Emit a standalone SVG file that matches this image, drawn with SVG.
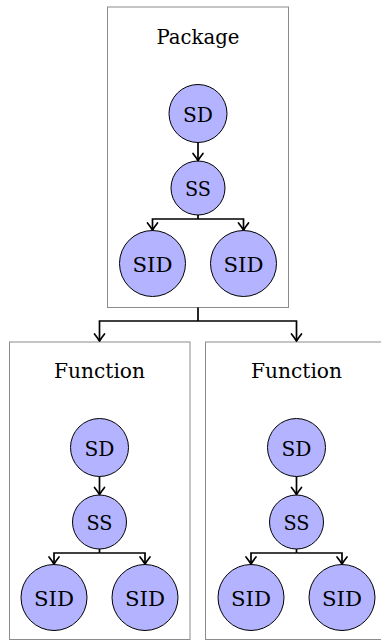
<svg xmlns="http://www.w3.org/2000/svg" width="381" height="642" viewBox="0 0 381 642">
<style>
.box{fill:#fff;stroke:#8c8c8c;stroke-width:1}
.node{fill:#b3b3ff;stroke:#000;stroke-width:1}
.t{font-family:'DejaVu Serif',serif;font-size:21px;fill:#000;text-anchor:middle}
.c{fill:none;stroke:#000;stroke-width:1.7;marker-end:url(#arr)}
.cl{fill:none;stroke:#000;stroke-width:1.7}
</style>
<defs>
<marker id="arr" markerUnits="userSpaceOnUse" viewBox="-9 -7 11 14" markerWidth="11" markerHeight="14" refX="0" refY="0" orient="auto">
<path d="M-7,-5 Q-2.5,-1.5 0,0 Q-2.5,1.5 -7,5" fill="none" stroke="#000" stroke-width="1.7" stroke-linecap="round" stroke-linejoin="round"/>
</marker>
</defs>
<g id="package">
<rect class="box" x="107.5" y="7" width="181" height="300.5"/>
<text class="t" x="198" y="43.5" textLength="83" lengthAdjust="spacingAndGlyphs">Package</text>
</g>
<g id="function-left">
<rect class="box" x="9.5" y="342" width="180.5" height="297.5"/>
<text class="t" x="99.5" y="378" textLength="91" lengthAdjust="spacingAndGlyphs">Function</text>
</g>
<g id="function-right">
<rect class="box" x="205.5" y="342" width="182" height="297.5"/>
<text class="t" x="296.5" y="378" textLength="91" lengthAdjust="spacingAndGlyphs">Function</text>
</g>
<g id="p-sd"><circle class="node" cx="198" cy="113.5" r="29"/><text class="t" x="198" y="121.5" textLength="30" lengthAdjust="spacingAndGlyphs">SD</text></g>
<g id="p-ss"><circle class="node" cx="198" cy="188" r="27"/><text class="t" x="198" y="196" textLength="26" lengthAdjust="spacingAndGlyphs">SS</text></g>
<g id="p-sid1"><circle class="node" cx="152.5" cy="263.5" r="33"/><text class="t" x="152.5" y="271.5" textLength="40" lengthAdjust="spacingAndGlyphs">SID</text></g>
<g id="p-sid2"><circle class="node" cx="243.5" cy="263.5" r="33"/><text class="t" x="243.5" y="271.5" textLength="40" lengthAdjust="spacingAndGlyphs">SID</text></g>
<g id="l-sd"><circle class="node" cx="99.5" cy="447.5" r="29"/><text class="t" x="99.5" y="455.5" textLength="30" lengthAdjust="spacingAndGlyphs">SD</text></g>
<g id="l-ss"><circle class="node" cx="99.5" cy="522" r="27"/><text class="t" x="99.5" y="530" textLength="26" lengthAdjust="spacingAndGlyphs">SS</text></g>
<g id="l-sid1"><circle class="node" cx="54" cy="597.5" r="33"/><text class="t" x="54" y="605.5" textLength="40" lengthAdjust="spacingAndGlyphs">SID</text></g>
<g id="l-sid2"><circle class="node" cx="145" cy="597.5" r="33"/><text class="t" x="145" y="605.5" textLength="40" lengthAdjust="spacingAndGlyphs">SID</text></g>
<g id="r-sd"><circle class="node" cx="296.5" cy="447.5" r="29"/><text class="t" x="296.5" y="455.5" textLength="30" lengthAdjust="spacingAndGlyphs">SD</text></g>
<g id="r-ss"><circle class="node" cx="296.5" cy="522" r="27"/><text class="t" x="296.5" y="530" textLength="26" lengthAdjust="spacingAndGlyphs">SS</text></g>
<g id="r-sid1"><circle class="node" cx="251" cy="597.5" r="33"/><text class="t" x="251" y="605.5" textLength="40" lengthAdjust="spacingAndGlyphs">SID</text></g>
<g id="r-sid2"><circle class="node" cx="342" cy="597.5" r="33"/><text class="t" x="342" y="605.5" textLength="40" lengthAdjust="spacingAndGlyphs">SID</text></g>
<g id="connectors">
<path class="c" d="M198,142.5 V160.5"/>
<path class="cl" d="M198,215 V219"/>
<path class="c" d="M198,219 H152.5 V230"/>
<path class="c" d="M198,219 H243.5 V230"/>
<path class="cl" d="M198,307.5 V321"/>
<path class="c" d="M198,321 H99.5 V341"/>
<path class="c" d="M198,321 H296.5 V341"/>
<path class="c" d="M99.5,476.5 V494.5"/>
<path class="cl" d="M99.5,549 V553"/>
<path class="c" d="M99.5,553 H54 V564"/>
<path class="c" d="M99.5,553 H145 V564"/>
<path class="c" d="M296.5,476.5 V494.5"/>
<path class="cl" d="M296.5,549 V553"/>
<path class="c" d="M296.5,553 H251 V564"/>
<path class="c" d="M296.5,553 H342 V564"/>
</g>
</svg>
